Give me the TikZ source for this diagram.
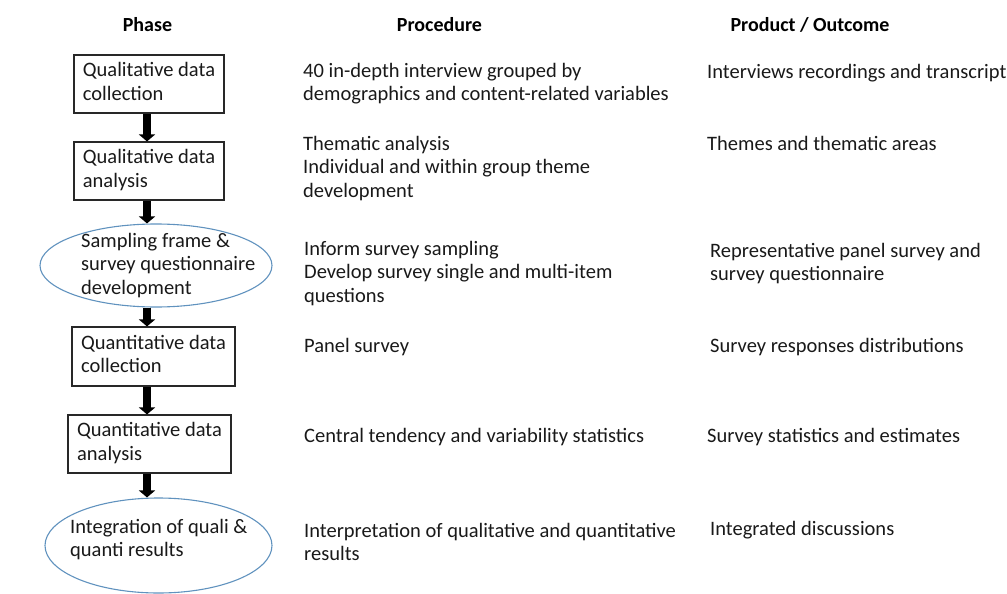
\documentclass[tikz,border=0pt]{standalone}
\usepackage{fontspec}
\setmainfont{Carlito}
\usetikzlibrary{arrows.meta,shapes.geometric}
\definecolor{ellblue}{RGB}{96,146,190}
\definecolor{boxline}{RGB}{40,40,40}
\begin{document}
\begin{tikzpicture}[x=1pt,y=-1pt,
  body/.style={font=\fontsize{20.5}{23.5}\selectfont, text=black!90},
  head/.style={font=\fontsize{20}{23}\selectfont\bfseries, anchor=base, inner sep=0},
  txt/.style={body, anchor=north west, inner sep=0, align=left},
  phasebox/.style={draw=boxline, line width=1.1pt, rectangle, body, align=left, inner sep=0},
  phaseell/.style={draw=ellblue, line width=1.1pt, ellipse, inner sep=0},
  flowarr/.style={line width=8pt, -{Triangle[width=16pt,length=7pt]}, black}]
\useasboundingbox (0,0) rectangle (1007,594);
% headers
\node[head] (hphase) at (147.5,31.5) {Phase};
\node[head] (hproc) at (439.5,31.5) {Procedure};
\node[head] (hprod) at (810,31.5) {Product / Outcome};
% phase column
\node[phasebox, minimum width=150, minimum height=58] (b1) at (149,84) {\strut Qualitative data\\\strut collection};
\node[phasebox, minimum width=150, minimum height=58] (b2) at (149,171) {\strut Qualitative data\\\strut analysis};
\node[phaseell, minimum width=232, minimum height=83] (e1) at (156,265.5) {};
\node[txt] (e1t) at (81,230.5) {\strut Sampling frame \&\\\strut survey questionnaire\\\strut development};
\node[phasebox, minimum width=163, minimum height=59] (b3) at (153.5,356.5) {\strut Quantitative data\\\strut collection};
\node[phasebox, minimum width=163, minimum height=58] (b4) at (149.5,444) {\strut Quantitative data\\\strut analysis};
\node[phaseell, minimum width=227, minimum height=95] (e2) at (158.5,545.5) {};
\node[txt] (e2t) at (70,516.5) {\strut Integration of quali \&\\\strut quanti results};
% arrows
\coordinate (ax) at (147,0);
\draw[flowarr] (b1.south -| ax) -- (b2.north -| ax);
\draw[flowarr] (b2.south -| ax) -- (e1.north -| ax);
\draw[flowarr] (e1.south -| ax) -- (b3.north -| ax);
\draw[flowarr] (b3.south -| ax) -- (b4.north -| ax);
\draw[flowarr] (b4.south -| ax) -- (e2.north -| ax);
% procedure column
\node[txt] (p1) at (303,60.5) {\strut 40 in-depth interview grouped by\\\strut demographics and content-related variables};
\node[txt] (p2) at (303,133.5) {\strut Thematic analysis\\\strut Individual and within group theme\\\strut development};
\node[txt] (p3) at (304,238.5) {\strut Inform survey sampling\\\strut Develop survey single and multi-item\\\strut questions};
\node[txt] (p4) at (304,335.5) {\strut Panel survey};
\node[txt] (p5) at (304,426) {\strut Central tendency and variability statistics};
\node[txt] (p6) at (304,520.5) {\strut Interpretation of qualitative and quantitative\\\strut results};
% product column
\node[txt] (o1) at (707,61.5) {\strut Interviews recordings and transcripts};
\node[txt] (o2) at (707,133.5) {\strut Themes and thematic areas};
\node[txt] (o3) at (710,240.5) {\strut Representative panel survey and\\\strut survey questionnaire};
\node[txt] (o4) at (710,335.5) {\strut Survey responses distributions};
\node[txt] (o5) at (707,425.5) {\strut Survey statistics and estimates};
\node[txt] (o6) at (710,518.5) {\strut Integrated discussions};
\end{tikzpicture}
\end{document}
